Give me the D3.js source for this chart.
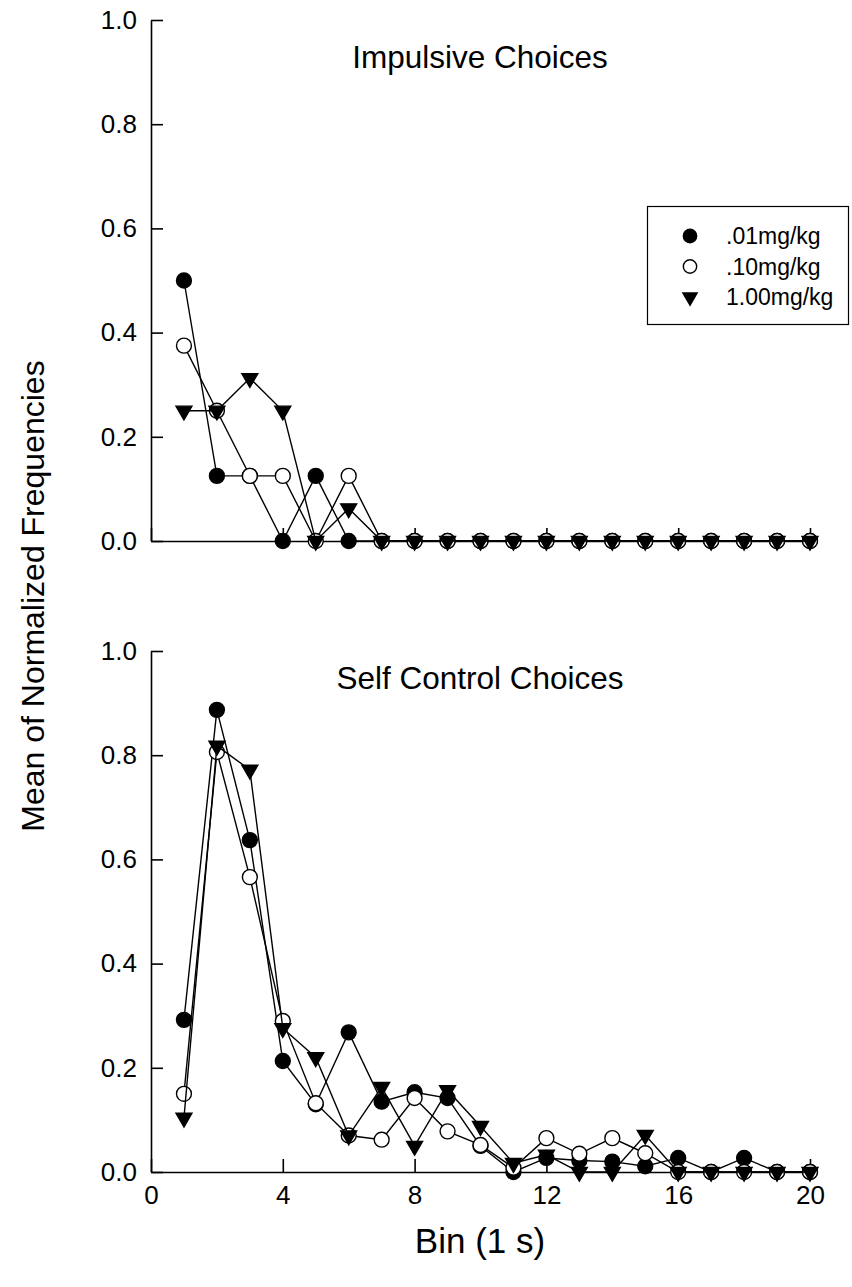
<!DOCTYPE html>
<html lang="en">
<head>
    <meta charset="UTF-8">
    <title>Mean of Normalized Frequencies</title>
    <script src="https://d3js.org/d3.v7.min.js"></script>
    <style>
        body { margin: 0; background: #fff; }
        svg text { font-family: "Liberation Sans", Arial, sans-serif; fill: #000; }
        .axis path, .axis line { stroke: #000; stroke-width: 1.6px; }
        .axis text { font-size: 26px; }
    </style>
</head>
<body>
    <svg id="chart"></svg>

    <script>
        // Bins along x axis
        const bins = [1, 2, 3, 4, 5, 6, 7, 8, 9, 10, 11, 12, 13, 14, 15, 16, 17, 18, 19, 20];

        // Impulsive choices panel
        const impulsive01 = [0.5, 0.125, 0.125, 0, 0.125, 0, 0, 0, 0, 0, 0, 0, 0, 0, 0, 0, 0, 0, 0, 0];
        const impulsive10 = [0.375, 0.25, 0.125, 0.125, 0, 0.125, 0, 0, 0, 0, 0, 0, 0, 0, 0, 0, 0, 0, 0, 0];
        const impulsive100 = [0.25, 0.25, 0.3125, 0.25, 0, 0.0625, 0, 0, 0, 0, 0, 0, 0, 0, 0, 0, 0, 0, 0, 0];

        // Self control choices panel
        const selfControl01 = [0.292, 0.887, 0.637, 0.213, 0.13, 0.268, 0.135, 0.153, 0.142, 0.05, 0, 0.027, 0.022, 0.02, 0.011, 0.027, 0, 0.027, 0, 0];
        const selfControl10 = [0.15, 0.806, 0.566, 0.29, 0.132, 0.07, 0.062, 0.142, 0.078, 0.052, 0.008, 0.065, 0.035, 0.065, 0.036, 0, 0, 0, 0, 0];
        const selfControl100 = [0.104, 0.818, 0.772, 0.276, 0.22, 0.07, 0.163, 0.05, 0.157, 0.088, 0.017, 0.033, 0, 0, 0.071, 0, 0, 0, 0, 0];

        const doseLabels = [".01mg/kg", ".10mg/kg", "1.00mg/kg"];
        const xTicks = [0, 4, 8, 12, 16, 20];
        const yTicks = [0, 0.2, 0.4, 0.6, 0.8, 1.0];

        const width = 852, height = 1287;
        const svg = d3.select("#chart").attr("width", width).attr("height", height);

        const x = d3.scaleLinear().domain([0, 20]).range([151, 810]);

        // marker styles: filled circle, open circle, filled down-triangle
        const markers = [
            { type: d3.symbolCircle, size: 175, fill: "#000", rotate: 0 },
            { type: d3.symbolCircle, size: 175, fill: "#fff", rotate: 0 },
            { type: d3.symbolTriangle, size: 110, fill: "#000", rotate: 180 }
        ];

        function drawPanel(series, top, bottom, title, titleY, showLabels) {
            const y = d3.scaleLinear().domain([0, 1]).range([bottom, top]);

            svg.append("g")
                .attr("class", "axis")
                .attr("transform", `translate(0,${bottom})`)
                .call(d3.axisBottom(x).tickValues(xTicks).tickSizeInner(-13).tickSizeOuter(0)
                    .tickPadding(14).tickFormat(showLabels ? d3.format("d") : ""));

            svg.append("g")
                .attr("class", "axis")
                .attr("transform", `translate(${x(0)},0)`)
                .call(d3.axisLeft(y).tickValues(yTicks).tickSizeInner(-12).tickSizeOuter(0)
                    .tickPadding(14).tickFormat(d3.format(".1f")));

            svg.append("text")
                .attr("x", 480)
                .attr("y", titleY)
                .attr("text-anchor", "middle")
                .attr("font-size", "31.5px")
                .text(title);

            const line = d3.line()
                .x((d, i) => x(bins[i]))
                .y(d => y(d));

            series.forEach((values, s) => {
                svg.append("path")
                    .datum(values)
                    .attr("fill", "none")
                    .attr("stroke", "#000")
                    .attr("stroke-width", 1.4)
                    .attr("d", line);

                const m = markers[s];
                svg.append("g").selectAll("path")
                    .data(values)
                    .join("path")
                    .attr("d", d3.symbol().type(m.type).size(m.size))
                    .attr("transform", (d, i) => `translate(${x(bins[i])},${y(d)}) rotate(${m.rotate})`)
                    .attr("fill", m.fill)
                    .attr("stroke", "#000")
                    .attr("stroke-width", 1.4);
            });
        }

        drawPanel([impulsive01, impulsive10, impulsive100], 20, 541, "Impulsive Choices", 68, false);
        drawPanel([selfControl01, selfControl10, selfControl100], 651, 1172, "Self Control Choices", 689, true);

        // Legend
        const legend = svg.append("g");
        legend.append("rect")
            .attr("x", 647.5).attr("y", 206.5)
            .attr("width", 201).attr("height", 118)
            .attr("fill", "#fff").attr("stroke", "#000").attr("stroke-width", 1.2);

        doseLabels.forEach((label, i) => {
            const cy = 236 + i * 30.5;
            const m = markers[i];
            legend.append("path")
                .attr("d", d3.symbol().type(m.type).size(m.size * 0.8))
                .attr("transform", `translate(690,${cy}) rotate(${m.rotate})`)
                .attr("fill", m.fill)
                .attr("stroke", "#000")
                .attr("stroke-width", 1.4);
            legend.append("text")
                .attr("x", 726)
                .attr("y", cy + 8)
                .attr("font-size", "23px")
                .text(label);
        });

        // Axis titles
        svg.append("text")
            .attr("x", 480)
            .attr("y", 1253)
            .attr("text-anchor", "middle")
            .attr("font-size", "35px")
            .text("Bin (1 s)");

        svg.append("text")
            .attr("transform", "translate(44,596) rotate(-90)")
            .attr("text-anchor", "middle")
            .attr("font-size", "32px")
            .text("Mean of Normalized Frequencies");
    </script>
</body>
</html>
